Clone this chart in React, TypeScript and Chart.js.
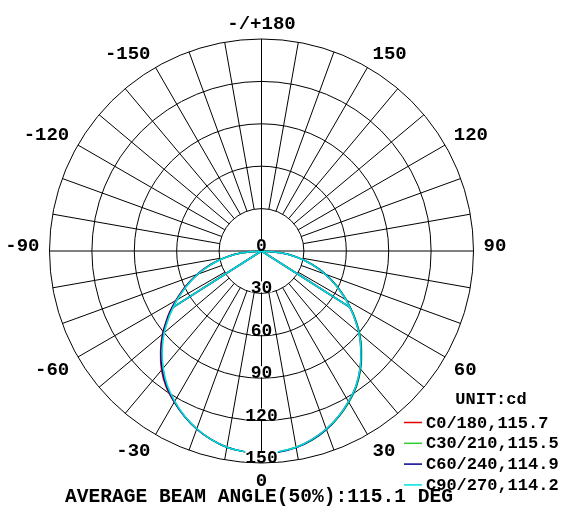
import { useEffect, useRef } from 'react';
import { Chart, registerables } from 'chart.js';

Chart.register(...registerables);

// ---- data ----
const ENV_ANGLES = [-90, -85, -80, -75, -70, -65, -60, -57.5, -55, -50, -45, -40, -35, -30, -25, -20, -15, -10, -5, 0, 5, 10, 15, 20, 25, 30, 35, 40, 45, 50, 55, 57.5, 60, 65, 70, 75, 80, 85, 90];
const CHORD_ANGLE = 57.5;

const C0_VALUES = [0, 13, 26, 37.5, 48.5, 59.5, 70, 75.5, 81, 91.5, 101, 110, 117.5, 123.5, 129, 134, 138, 141, 142.5, 143, 142.5, 141, 138, 134, 129, 123, 116.5, 108.5, 99.5, 90, 79.5, 74, 69, 58.5, 48, 37, 25.5, 13, 0];
const C30_VALUES = [0, 13, 25.5, 37, 48, 58.5, 69, 74, 79.5, 90, 99.5, 108.5, 116.5, 123, 129, 134, 138, 141, 142.5, 143, 142.5, 141, 138.5, 134.5, 129.5, 123.7, 117.2, 109.2, 100.2, 90.7, 80.2, 74.5, 69.5, 59, 48.5, 37.5, 26, 13, 0];
const C60_VALUES = [0, 13, 25.8, 37.3, 48.3, 59, 69.5, 75, 80.5, 91, 100.5, 109.3, 117, 123.3, 129, 134, 138, 141, 142.5, 143, 142.8, 141.3, 138.3, 134.3, 129.3, 123.3, 116.8, 108.8, 99.8, 90.3, 79.8, 74.3, 69.3, 58.8, 48.3, 37.3, 25.8, 13, 0];
const C90_VALUES = [0, 13, 25.5, 37, 48, 58.5, 69, 74, 79.5, 90, 99.5, 108.2, 116.2, 122.8, 128.8, 133.8, 138, 141, 142.5, 143.5, 142.5, 141, 138, 134, 129, 123, 116.5, 108.5, 99.5, 90, 79.5, 74, 69, 58.5, 48, 37, 25.5, 13, 0];

const SERIES_NAMES = ['C0/180,115.7', 'C30/210,115.5', 'C60/240,114.9', 'C90/270,114.2'];
const SERIES_COLORS = ['#e00000', '#33cc33', '#000090', '#00e0e0'];
const SERIES_VALUES = [C0_VALUES, C30_VALUES, C60_VALUES, C90_VALUES];

const RING_VALUES = [30, 60, 90, 120, 150];
const RING_LABELS = ['0', '30', '60', '90', '120', '150'];
const ANGLE_TICKS = [0, 30, 60, 90, 120, 150, 180, -150, -120, -90, -60, -30];
const ANGLE_TICK_LABELS = ['0', '30', '60', '90', '120', '150', '-/+180', '-150', '-120', '-90', '-60', '-30'];
const UNIT_TEXT = 'UNIT:cd';
const FOOTER_TEXT = 'AVERAGE BEAM ANGLE(50%):115.1 DEG';

// ---- layout constants ----
const W = 577;
const H = 525;
const CX = 261.5;
const CY = 251;
const K = 212 / 150; // px per unit
const R_MAX = 150;
const LABEL_R = 222 / K;
const FONT = '"Liberation Mono", "Courier New", monospace';

function toXY(angle: number, value: number) {
  const t = (angle * Math.PI) / 180;
  return { x: value * Math.sin(t), y: -value * Math.cos(t) };
}

const polarGrid = {
  id: 'polarGrid',
  beforeDraw(chart: any) {
    const ctx = chart.ctx;
    ctx.save();
    ctx.fillStyle = '#ffffff';
    ctx.fillRect(0, 0, chart.width, chart.height);
    ctx.restore();
  },
  beforeDatasetsDraw(chart: any) {
    const ctx = chart.ctx;
    const xs = chart.scales.x;
    const ys = chart.scales.y;
    const cx = xs.getPixelForValue(0);
    const cy = ys.getPixelForValue(0);
    const px = (v: number) => xs.getPixelForValue(v) - cx;
    ctx.save();
    ctx.strokeStyle = '#000000';
    ctx.lineWidth = 1;
    for (const v of RING_VALUES) {
      ctx.beginPath();
      ctx.arc(cx, cy, px(v), 0, Math.PI * 2);
      ctx.stroke();
    }
    for (let a = 0; a < 360; a += 10) {
      const t = (a * Math.PI) / 180;
      const r0 = a % 90 === 0 ? 0 : px(RING_VALUES[0]);
      const r1 = px(R_MAX);
      ctx.beginPath();
      ctx.moveTo(cx + r0 * Math.sin(t), cy + r0 * Math.cos(t));
      ctx.lineTo(cx + r1 * Math.sin(t), cy + r1 * Math.cos(t));
      ctx.stroke();
    }
    // angle labels
    ctx.fillStyle = '#000000';
    ctx.font = `bold 19px ${FONT}`;
    ANGLE_TICKS.forEach((a, i) => {
      const t = (a * Math.PI) / 180;
      const s = Math.sin(t);
      const c = Math.cos(t);
      const lx = xs.getPixelForValue(LABEL_R * s);
      const ly = ys.getPixelForValue(-LABEL_R * c);
      ctx.textAlign = s > 0.01 ? 'left' : s < -0.01 ? 'right' : 'center';
      ctx.textBaseline = 'alphabetic';
      const dy = c > 0.01 ? 13 : 0;
      ctx.fillText(ANGLE_TICK_LABELS[i], lx, ly + dy);
    });
    ctx.restore();
  },
  afterDatasetsDraw(chart: any) {
    const ctx = chart.ctx;
    const xs = chart.scales.x;
    const ys = chart.scales.y;
    const cx = xs.getPixelForValue(0);
    ctx.save();
    // ring labels
    ctx.font = `bold 18px ${FONT}`;
    ctx.textAlign = 'center';
    ctx.textBaseline = 'alphabetic';
    const ringVals = [0, ...RING_VALUES];
    ringVals.forEach((v, i) => {
      const y = ys.getPixelForValue(-v);
      const txt = RING_LABELS[i];
      const w = ctx.measureText(txt).width;
      ctx.fillStyle = '#ffffff';
      ctx.fillRect(cx - w / 2, y - 12, w, 11);
      ctx.fillStyle = '#000000';
      ctx.fillText(txt, cx, y);
    });
    // legend
    ctx.font = `bold 17px ${FONT}`;
    ctx.textAlign = 'center';
    ctx.fillText(UNIT_TEXT, 491, 404);
    ctx.textAlign = 'left';
    SERIES_NAMES.forEach((name, i) => {
      const y = 427.5 + i * 20.8;
      ctx.strokeStyle = SERIES_COLORS[i];
      ctx.lineWidth = 1.5;
      ctx.beginPath();
      ctx.moveTo(404, y - 5);
      ctx.lineTo(422, y - 5);
      ctx.stroke();
      ctx.fillStyle = '#000000';
      ctx.fillText(name, 426, y);
    });
    // footer
    ctx.font = `bold 19.6px ${FONT}`;
    ctx.textAlign = 'left';
    ctx.fillText(FOOTER_TEXT, 65, 502);
    ctx.restore();
  },
};

export default function App() {
  const ref = useRef<HTMLCanvasElement | null>(null);
  useEffect(() => {
    document.body.style.margin = '0';
    const canvas = ref.current;
    if (!canvas) return;
    const datasets: any[] = [];
    // cyan on top: dataset 0 is drawn last
    for (let si = SERIES_VALUES.length - 1; si >= 0; si--) {
      const vals = SERIES_VALUES[si];
      const env = ENV_ANGLES.map((a, i) => toXY(a, vals[i]));
      const li = ENV_ANGLES.indexOf(-CHORD_ANGLE);
      const ri = ENV_ANGLES.indexOf(CHORD_ANGLE);
      const chord = [toXY(-CHORD_ANGLE, vals[li]), toXY(0, 0), toXY(CHORD_ANGLE, vals[ri])];
      datasets.push({
        label: SERIES_NAMES[si],
        data: env,
        showLine: true,
        borderColor: SERIES_COLORS[si],
        borderWidth: 1.5,
        pointRadius: 0,
        tension: 0.3,
        clip: false,
        order: 3 - si,
      });
      datasets.push({
        label: SERIES_NAMES[si] + ' chord',
        data: chord,
        showLine: true,
        borderColor: SERIES_COLORS[si],
        borderWidth: 1.5,
        pointRadius: 0,
        tension: 0,
        clip: false,
        order: 3 - si,
      });
    }
    const chart = new Chart(canvas, {
      type: 'scatter',
      data: { datasets },
      options: {
        responsive: false,
        animation: false,
        devicePixelRatio: 1,
        layout: { padding: 0 },
        plugins: { legend: { display: false }, tooltip: { enabled: false } },
        scales: {
          x: { type: 'linear', display: false, min: -CX / K, max: (W - CX) / K },
          y: { type: 'linear', display: false, min: -(H - CY) / K, max: CY / K },
        },
      },
      plugins: [polarGrid],
    });
    return () => chart.destroy();
  }, []);
  return (
    <div style={{ position: 'absolute', left: 0, top: 0, width: W, height: H, background: '#fff' }}>
      <canvas ref={ref} width={W} height={H} style={{ display: 'block' }} />
    </div>
  );
}
